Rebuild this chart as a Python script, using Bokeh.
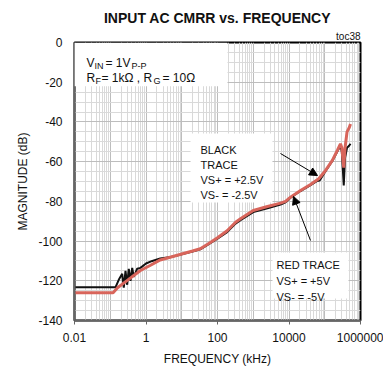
from bokeh.plotting import figure
from bokeh.models import (Range1d, FixedTicker, Label, BoxAnnotation, Arrow,
                          NormalHead, CustomJSTickFormatter, Title)
from bokeh.embed import file_html
from bokeh.resources import INLINE

FONT = "Liberation Sans"

# ---- data ----
freq_red = [0.01, 0.12, 0.16, 0.3, 0.7, 1.3, 2.5, 5, 10, 20, 33, 60, 100, 186,
            320, 440, 1000, 2500, 5800, 8000, 11000, 21000, 40000, 68000,
            100000, 163000, 230000, 275000, 300000, 340000, 370000, 420000,
            480000, 525000]
mag_red = [-126, -126, -123.5, -119.8, -114.8, -112.3, -109.5, -108, -106.5,
           -105, -103.9, -101, -98.3, -94.8, -90.5, -88.8, -84.6, -82.6, -80.9,
           -80, -77.9, -74.5, -71.5, -68.6, -65, -59.4, -54, -51, -53, -63,
           -53, -45, -43, -41]

freq_black = [0.01, 0.14, 0.173, 0.216, 0.239, 0.267, 0.298, 0.33, 0.368,
              0.411, 0.456, 0.567, 0.7, 1.0, 1.5, 2.5, 5, 10, 20, 33, 60, 100,
              186, 320, 440, 1000, 2500, 5800, 8000, 11000, 21000, 40000,
              60000, 72000, 100000, 163000, 230000, 275000, 300000, 340000,
              370000, 420000, 480000, 525000]
mag_black = [-123.3, -123.3, -119.5, -116.5, -123.5, -115, -122, -114, -120,
             -113.5, -118, -113.9, -113.5, -111.3, -110, -108.8, -108, -106.7,
             -105.3, -104.2, -101.3, -98.8, -95.5, -91.2, -89.5, -85.4, -83.5,
             -81.6, -80.5, -78.2, -74.8, -71.8, -69.8, -69.5, -65.5, -59.7,
             -54.5, -52, -55, -72, -58, -53, -52, -51]

x_tick_values = [0.01, 1, 100, 10000, 1000000]
x_tick_labels = ["0.01", "1", "100", "10000", "1000000"]
y_tick_values = [-140, -120, -100, -80, -60, -40, -20, 0]

p = figure(width=383, height=368, x_axis_type="log",
           x_range=Range1d(0.01, 1000000), y_range=Range1d(-140, 0),
           output_backend="svg", toolbar_location=None,
           min_border_left=74, min_border_right=23, min_border_top=42,
           min_border_bottom=45)
p.title.text = "INPUT AC CMRR vs. FREQUENCY"
p.title.align = "center"
p.title.text_font = FONT
p.title.text_font_size = "14px"
p.title.text_font_style = "bold"
p.title.text_color = "#111111"
p.title.standoff = 4
p.add_layout(Title(text="toc38", align="right", text_font=FONT,
                   text_font_size="10px", text_font_style="normal",
                   text_color="#111111", standoff=2), "above")

p.background_fill_color = "white"
p.border_fill_color = "white"
p.outline_line_color = "black"
p.outline_line_width = 2

# grids
decades = [10.0 ** d for d in range(-2, 7)]
minor_x = [m * 10.0 ** d for d in range(-2, 6) for m in range(2, 10)]
p.xgrid.ticker = FixedTicker(ticks=decades, minor_ticks=minor_x)
p.xgrid.grid_line_color = "#bdbdbd"
p.xgrid.minor_grid_line_color = "#d9d9d9"
p.ygrid.ticker = FixedTicker(ticks=y_tick_values,
                             minor_ticks=[v for v in range(-140, 1, 5) if v % 20])
p.ygrid.grid_line_color = "#bdbdbd"
p.ygrid.minor_grid_line_color = "#d9d9d9"

# axes
p.xaxis.ticker = FixedTicker(ticks=x_tick_values, minor_ticks=[])
p.xaxis.formatter = CustomJSTickFormatter(
    args=dict(vals=x_tick_values, labs=x_tick_labels),
    code="""
    for (let i = 0; i < vals.length; i++) {
        if (Math.abs(Math.log10(vals[i]) - Math.log10(tick)) < 1e-6) return labs[i];
    }
    return "";
""")
p.yaxis.ticker = FixedTicker(ticks=y_tick_values, minor_ticks=[])
p.yaxis.formatter = CustomJSTickFormatter(code="return tick.toFixed(0);")
for ax in (p.xaxis[0], p.yaxis[0]):
    ax.axis_line_color = "#666666"
    ax.axis_line_width = 2
    ax.major_tick_line_color = "#666666"
    ax.minor_tick_line_color = None
    ax.major_label_text_font = FONT
    ax.major_label_text_font_size = "12px"
    ax.major_label_text_color = "#111111"
    ax.axis_label_text_font = FONT
    ax.axis_label_text_font_size = "12px"
    ax.axis_label_text_font_style = "normal"
    ax.axis_label_text_color = "#111111"
p.xaxis.major_tick_out = 4
p.xaxis.major_tick_in = 0
p.xaxis.major_label_standoff = 8
p.xaxis.axis_label = "FREQUENCY (kHz)"
p.xaxis.axis_label_standoff = 7
p.yaxis.major_tick_out = 0
p.yaxis.major_tick_in = 0
p.yaxis.major_label_standoff = 12
p.yaxis.axis_label = "MAGNITUDE (dB)"
p.yaxis.axis_label_standoff = 5

# traces
p.line(freq_black, mag_black, line_color="#111111", line_width=2)
p.line(freq_red, mag_red, line_color="#d8655b", line_width=3)

# white annotation boxes
for l, r, t, b in [(0.01, 190, 0, -22), (17.6, 3450, -45.8, -80.6),
                   (3450, 461000, -105.7, -128.9)]:
    p.add_layout(BoxAnnotation(left=l, right=r, top=t, bottom=b,
                               fill_color="white", fill_alpha=1.0,
                               line_color=None, level="annotation"))

def lab(x, y, text, xo=0, yo=0, size="12px", align="left", style="normal"):
    p.add_layout(Label(x=x, y=y, x_offset=xo, y_offset=yo, text=text,
                       text_font=FONT, text_font_size=size,
                       text_font_style=style, text_align=align,
                       text_baseline="alphabetic", text_color="#111111"))

# condition text
lab(0.01, 0, "V", xo=12, yo=-20)
lab(0.01, 0, "IN", xo=20, yo=-23, size="9px")
lab(0.01, 0, "= 1V", xo=31, yo=-20)
lab(0.01, 0, "P-P", xo=57, yo=-23, size="9px")
lab(0.01, 0, "R", xo=12, yo=-35)
lab(0.01, 0, "F", xo=21, yo=-38, size="9px")
lab(0.01, 0, "= 1k\u03a9 , R", xo=27, yo=-35)
lab(0.01, 0, "G", xo=79, yo=-38, size="9px")
lab(0.01, 0, "= 10\u03a9", xo=88, yo=-35)

# black trace note
for i, t in enumerate(["BLACK", "TRACE", "VS+ = +2.5V", "VS- = -2.5V"]):
    lab(17.6, -45.8, t, xo=10, yo=-17 - 15 * i, size="11px")
# red trace note
for i, t in enumerate(["RED TRACE", "VS+ = +5V", "VS- = -5V"]):
    lab(3450, -105.7, t, xo=4, yo=-13 - 16 * i, size="11px")

# arrows
p.add_layout(Arrow(end=NormalHead(size=8, fill_color="black", line_color="black"),
                   x_start=5780, y_start=-55.9, x_end=62700, y_end=-67.0,
                   line_color="black", line_width=1))
p.add_layout(Arrow(end=NormalHead(size=8, fill_color="black", line_color="black"),
                   x_start=39900, y_start=-99.7, x_end=13370, y_end=-77.5,
                   line_color="black", line_width=1))

open("out.html", "w").write(file_html(p, INLINE))
